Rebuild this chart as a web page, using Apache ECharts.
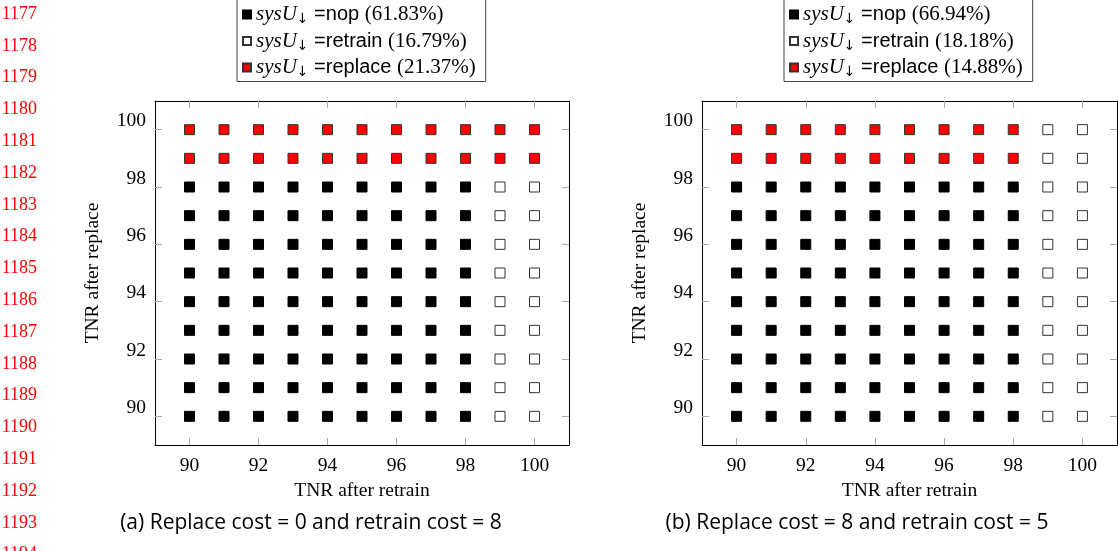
<!DOCTYPE html>
<html><head><meta charset="utf-8">
<script src="https://cdn.jsdelivr.net/npm/echarts@6/dist/echarts.min.js"></script>
<style>html,body{margin:0;padding:0;background:#fff}#c{width:1119px;height:551px}</style>
</head><body><div id="c"></div>
<script>
// ---- data ----
const xValues = [90, 91, 92, 93, 94, 95, 96, 97, 98, 99, 100];   // TNR after retrain
const yValues = [100, 99, 98, 97, 96, 95, 94, 93, 92, 91, 90];   // TNR after replace (rows, top to bottom)
const tickValues = [90, 92, 94, 96, 98, 100];
// decision per cell: N = nop, T = retrain, R = replace (columns follow xValues)
const decisionsA = [
  'RRRRRRRRRRR',
  'RRRRRRRRRRR',
  'NNNNNNNNNTT',
  'NNNNNNNNNTT',
  'NNNNNNNNNTT',
  'NNNNNNNNNTT',
  'NNNNNNNNNTT',
  'NNNNNNNNNTT',
  'NNNNNNNNNTT',
  'NNNNNNNNNTT',
  'NNNNNNNNNTT'
];
const decisionsB = [
  'RRRRRRRRRTT',
  'RRRRRRRRRTT',
  'NNNNNNNNNTT',
  'NNNNNNNNNTT',
  'NNNNNNNNNTT',
  'NNNNNNNNNTT',
  'NNNNNNNNNTT',
  'NNNNNNNNNTT',
  'NNNNNNNNNTT',
  'NNNNNNNNNTT',
  'NNNNNNNNNTT'
];
const decisionNames = ['nop', 'retrain', 'replace'];
const decisionCodes = ['N', 'T', 'R'];
const percentA = ['61.83%', '16.79%', '21.37%'];
const percentB = ['66.94%', '18.18%', '14.88%'];
const captions = ['(a) Replace cost = 0 and retrain cost = 8', '(b) Replace cost = 8 and retrain cost = 5'];
const lineNumbers = [1177,1178,1179,1180,1181,1182,1183,1184,1185,1186,1187,1188,1189,1190,1191,1192,1193,1194];

// ---- styles ----
const SERIF = '"Liberation Serif", "DejaVu Serif", serif';
const SANS = '"Liberation Sans", Arial, sans-serif';
const FS = 19.5;
const markerStyles = [
  { color: '#000000', borderColor: '#000', borderWidth: 1, opacity: 1 },
  { color: '#ffffff', borderColor: '#333', borderWidth: 1, opacity: 1 },
  { color: '#ff0000', borderColor: '#333', borderWidth: 1, opacity: 1 }
];

function pointsFor(decisions, code) {
  const pts = [];
  decisions.forEach((row, i) => {
    row.split('').forEach((c, j) => { if (c === code) pts.push([xValues[j], yValues[i]]); });
  });
  return pts;
}

const grids = [
  { left: 155, right: 550, top: 101, bottom: 106 },
  { left: 702, right: 2, top: 101, bottom: 106 }
];
const panels = [
  { key: 'a', decisions: decisionsA, percent: percentA, legendLeft: 237 },
  { key: 'b', decisions: decisionsB, percent: percentB, legendLeft: 784 }
];

const xAxes = [], yAxes = [], series = [], legends = [];
const tickStyle = { show: true, inside: true, length: 7, lineStyle: { color: '#aaa', width: 1 } };
const lineStyle = { show: true, onZero: false, lineStyle: { color: '#000', width: 1 } };

panels.forEach((p, gi) => {
  xAxes.push({
    gridIndex: gi, type: 'value', min: 89, max: 101, position: 'bottom',
    axisLine: lineStyle,
    axisTick: Object.assign({ customValues: tickValues }, tickStyle),
    axisLabel: { customValues: tickValues, fontFamily: SERIF, fontSize: FS, color: '#000', margin: 11 },
    splitLine: { show: false },
    name: 'TNR after retrain', nameLocation: 'middle', nameGap: 36,
    nameTextStyle: { fontFamily: SERIF, fontSize: FS, color: '#000' }
  });
  xAxes.push({
    gridIndex: gi, type: 'value', min: 89, max: 101, position: 'top',
    axisLine: lineStyle,
    axisTick: Object.assign({ customValues: tickValues }, tickStyle),
    axisLabel: { show: false }, splitLine: { show: false }
  });
  yAxes.push({
    gridIndex: gi, type: 'value', min: 89, max: 101, position: 'left',
    axisLine: lineStyle,
    axisTick: Object.assign({ customValues: tickValues }, tickStyle),
    axisLabel: { customValues: tickValues, fontFamily: SERIF, fontSize: FS, color: '#000', margin: 9, verticalAlign: 'bottom', lineHeight: 17 },
    splitLine: { show: false },
    name: 'TNR after replace', nameLocation: 'middle', nameGap: 52,
    nameTextStyle: { fontFamily: SERIF, fontSize: FS, color: '#000' }
  });
  yAxes.push({
    gridIndex: gi, type: 'value', min: 89, max: 101, position: 'right',
    axisLine: lineStyle,
    axisTick: Object.assign({ customValues: tickValues }, tickStyle),
    axisLabel: { show: false }, splitLine: { show: false }
  });
  const names = [];
  decisionCodes.forEach((code, k) => {
    const name = p.key + '_' + decisionNames[k];
    names.push(name);
    series.push({
      name, type: 'scatter', xAxisIndex: gi * 2, yAxisIndex: gi * 2,
      symbol: 'rect', symbolSize: 10, itemStyle: markerStyles[k],
      data: pointsFor(p.decisions, code), animation: false
    });
  });
  legends.push({
    data: names, orient: 'vertical', left: p.legendLeft, top: -2,
    padding: [6, 10, 2, 5], itemGap: 4, itemWidth: 8, itemHeight: 8, icon: 'rect',
    borderColor: '#444', borderWidth: 1, backgroundColor: '#fff',
    selectedMode: false,
    formatter: (n) => {
      const k = names.indexOf(n);
      return '{m|sysU}{s|↓}{t| =' + decisionNames[k] + ' }{p|(' + p.percent[k] + ')}';
    },
    textStyle: {
      color: '#000', lineHeight: 21,
      rich: {
        m: { fontFamily: SERIF, fontStyle: 'italic', fontSize: 21, color: '#000' },
        s: { fontFamily: '"DejaVu Sans", sans-serif', fontSize: 14, color: '#000', padding: [10, 0, 0, 0] },
        t: { fontFamily: SANS, fontSize: 20, color: '#000' },
        p: { fontFamily: SERIF, fontSize: 21, color: '#000' }
      }
    }
  });
});

const graphics = [];
lineNumbers.forEach((n, i) => {
  graphics.push({ type: 'text', right: 1119 - 37, top: 14 + i * 31.8 - 9,
    style: { text: String(n), fontFamily: SERIF, fontSize: 18, fill: '#ff0000' } });
});
captions.forEach((c, i) => {
  graphics.push({ type: 'text', x: i === 0 ? 311 : 857, y: 523,
    style: { text: c, fontFamily: '"Open Sans", sans-serif', fontSize: 21, fill: '#000', align: 'center', verticalAlign: 'middle' } });
});

const chart = echarts.init(document.getElementById('c'), null, { renderer: 'canvas' });
chart.setOption({
  animation: false,
  backgroundColor: '#fff',
  grid: grids,
  xAxis: xAxes,
  yAxis: yAxes,
  legend: legends,
  series,
  graphic: graphics
});
</script></body></html>
